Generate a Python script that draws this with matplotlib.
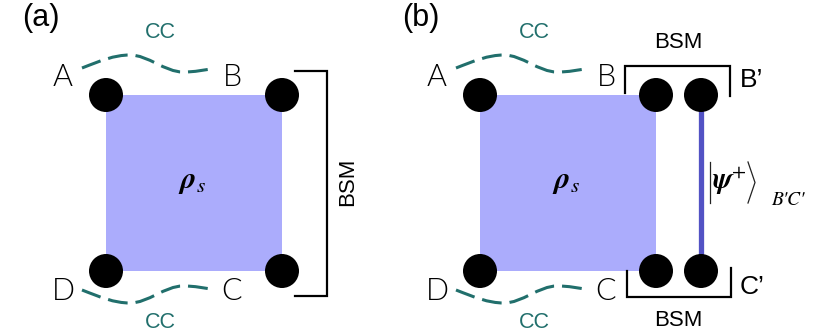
import matplotlib
matplotlib.use("Agg")
import matplotlib.pyplot as plt
from matplotlib.path import Path
from matplotlib.patches import PathPatch, Circle, Rectangle

plt.rcParams['mathtext.fontset'] = 'stix'

# Layout, in pixel units of the output image
W, H = 816, 335
SHIFT = 374            # panel (b) left block offset

square_x = [106, 480]
square_y = 95
square_size = 176
square_color = '#abacfc'

dots_a = [(106, 95), (282, 95), (106, 271), (282, 271)]
dots_b = [(480, 95), (656, 95), (701, 95), (480, 271), (656, 271), (701, 271)]
dot_r = 17

corner_labels = ['A', 'B', 'D', 'C']
corner_pos = [(63, 77), (232, 77), (63, 292), (232, 292)]

teal = '#216f6c'

fig = plt.figure(figsize=(W / 100, H / 100), dpi=100)
ax = fig.add_axes([0, 0, 1, 1])
ax.set_xlim(0, W)
ax.set_ylim(H, 0)
ax.axis('off')

# wavy CC link: start, crest, trough, end with bezier handles
wave_pts = [(82, 68), (100, 61), (114, 55), (130, 55),
            (148, 55), (165, 72), (183, 72),
            (196, 72), (203, 70), (211, 69)]


def wave(x0, top=True):
    verts = [(x + x0, y if top else 358 - y) for x, y in wave_pts]
    codes = [Path.MOVETO] + [Path.CURVE4] * 9
    ax.add_patch(PathPatch(Path(verts, codes), fill=False, edgecolor=teal, lw=2.2,
                           linestyle=(0, (6.5, 2.6)), capstyle='butt'))


def bracket(xs, ys):
    ax.plot(xs, ys, color='black', lw=1.6, solid_joinstyle='miter')


for i, sx in enumerate(square_x):
    ax.add_patch(Rectangle((sx, square_y), square_size, square_size,
                           facecolor=square_color, edgecolor='none', zorder=1))
    off = i * SHIFT
    for lab, (lx, ly) in zip(corner_labels, corner_pos):
        ax.text(lx + off, ly, lab, fontsize=22, family='Lato', fontweight=300,
                ha='center', va='center', color='black')
    wave(off, top=True)
    wave(off, top=False)
    ax.text(160 + off, 33, 'CC', fontsize=15.5, family='Liberation Sans',
            color=teal, ha='center', va='center')
    ax.text(160 + off, 322, 'CC', fontsize=15.5, family='Liberation Sans',
            color=teal, ha='center', va='center')
    ax.text(192 + off, 181, r'$\boldsymbol{\rho}_{s}$', fontsize=22,
            ha='center', va='center')

# entangled pair B'C'
ax.plot([701, 701], [95, 271], color='#5252c4', lw=3.8, zorder=2)

for x, y in dots_a + dots_b:
    ax.add_patch(Circle((x, y), dot_r, facecolor='black', edgecolor='none', zorder=3))

# BSM brackets
bracket([295, 327, 327, 295], [71, 71, 296, 296])
ax.text(348, 182, 'BSM', fontsize=16, family='Liberation Sans', rotation=90,
        ha='center', va='center')
bracket([625, 625, 730, 730], [93, 66, 66, 96])
bracket([627, 627, 731, 731], [271, 297, 297, 268])
ax.text(678, 43, 'BSM', fontsize=16, family='Liberation Sans', ha='center', va='center')
ax.text(678, 320, 'BSM', fontsize=16, family='Liberation Sans', ha='center', va='center')

ax.text(740, 80, 'B\u2019', fontsize=19, family='Liberation Sans', ha='left', va='center')
ax.text(740, 287, 'C\u2019', fontsize=19, family='Liberation Sans', ha='left', va='center')

# ket |psi+> with tall thin delimiters
ax.plot([710, 710], [162, 203], color='#222222', lw=0.9)
ax.plot([748, 755, 748], [162, 182.5, 203], color='#222222', lw=0.9)
ax.text(729, 182, r'$\boldsymbol{\psi}^{+}$', fontsize=21, ha='center', va='center')
ax.text(788, 200, "B'C'", fontsize=14, family='STIXGeneral', style='italic',
        ha='center', va='center')

ax.text(41, 18, '(a)', fontsize=22, family='Liberation Sans', ha='center', va='center')
ax.text(421, 18, '(b)', fontsize=22, family='Liberation Sans', ha='center', va='center')

fig.savefig('out.png', dpi=100)
